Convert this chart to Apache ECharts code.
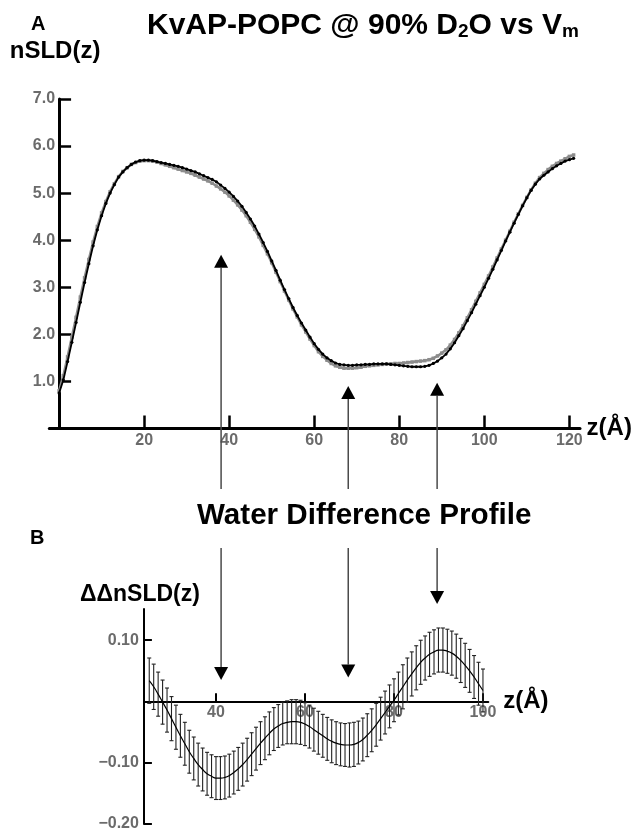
<!DOCTYPE html>
<html>
<head>
<meta charset="utf-8">
<script src="https://cdn.jsdelivr.net/npm/echarts@6/dist/echarts.min.js"></script>
<style>
  html, body { margin: 0; padding: 0; background: #fff; }
  #chart { width: 636px; height: 832px; }
</style>
</head>
<body>
<div id="chart"></div>
<script>
// panel A: nSLD profiles, one sample every 1 Å starting at z = 0
var nSLDBlack = [
  0.75, 1.03, 1.42, 1.83, 2.25, 2.68, 3.10, 3.50, 3.88, 4.22,
  4.52, 4.78, 5.00, 5.18, 5.34, 5.45, 5.54, 5.61, 5.66, 5.69,
  5.70, 5.70, 5.69, 5.67, 5.65, 5.63, 5.61, 5.59, 5.57, 5.54,
  5.51, 5.48, 5.45, 5.41, 5.37, 5.33, 5.29, 5.24, 5.17, 5.10,
  5.02, 4.93, 4.83, 4.72, 4.59, 4.45, 4.30, 4.13, 3.95, 3.76,
  3.56, 3.36, 3.15, 2.95, 2.76, 2.57, 2.40, 2.24, 2.09, 1.94,
  1.80, 1.68, 1.58, 1.50, 1.44, 1.39, 1.36, 1.35, 1.34, 1.34,
  1.35, 1.35, 1.36, 1.36, 1.37, 1.37, 1.37, 1.37, 1.36, 1.35,
  1.34, 1.33, 1.32, 1.31, 1.31, 1.31, 1.32, 1.34, 1.38, 1.43,
  1.50, 1.58, 1.69, 1.82, 1.97, 2.12, 2.29, 2.46, 2.64, 2.82,
  3.00, 3.19, 3.38, 3.58, 3.78, 3.98, 4.17, 4.36, 4.55, 4.73,
  4.90, 5.06, 5.19, 5.30, 5.38, 5.45, 5.52, 5.58, 5.63, 5.68,
  5.71, 5.74
];
var nSLDGray = [
  0.80, 1.12, 1.52, 1.94, 2.36, 2.79, 3.20, 3.59, 3.96, 4.29,
  4.58, 4.82, 5.03, 5.20, 5.35, 5.46, 5.54, 5.61, 5.65, 5.68,
  5.69, 5.69, 5.68, 5.66, 5.63, 5.60, 5.57, 5.54, 5.51, 5.48,
  5.45, 5.42, 5.38, 5.34, 5.30, 5.26, 5.21, 5.15, 5.09, 5.02,
  4.94, 4.85, 4.75, 4.64, 4.52, 4.38, 4.23, 4.07, 3.89, 3.71,
  3.52, 3.32, 3.12, 2.92, 2.73, 2.54, 2.37, 2.20, 2.05, 1.90,
  1.76, 1.63, 1.53, 1.45, 1.38, 1.33, 1.30, 1.28, 1.28, 1.28,
  1.29, 1.30, 1.32, 1.33, 1.34, 1.35, 1.36, 1.37, 1.37, 1.38,
  1.38, 1.39, 1.40, 1.41, 1.42, 1.43, 1.44, 1.46, 1.49, 1.54,
  1.60, 1.67, 1.77, 1.89, 2.03, 2.18, 2.35, 2.52, 2.70, 2.88,
  3.06, 3.24, 3.43, 3.62, 3.81, 4.00, 4.19, 4.38, 4.56, 4.74,
  4.91, 5.07, 5.21, 5.33, 5.42, 5.50, 5.57, 5.63, 5.68, 5.73,
  5.78, 5.81
];
var zTopStart = 0;
var zTicksTop = [20, 40, 60, 80, 100, 120];
var nSLDTicks = [1, 2, 3, 4, 5, 6, 7];

// panel B: water difference profile, one sample every 1 Å starting at z = 25
var ddMean = [
  0.034, 0.024, 0.012, -0.001, -0.014, -0.028, -0.042, -0.056, -0.069, -0.082,
  -0.093, -0.103, -0.111, -0.118, -0.122, -0.125, -0.125, -0.124, -0.121, -0.116,
  -0.110, -0.103, -0.095, -0.086, -0.077, -0.068, -0.060, -0.052, -0.045, -0.040,
  -0.036, -0.034, -0.033, -0.033, -0.034, -0.037, -0.041, -0.046, -0.051, -0.056,
  -0.061, -0.065, -0.068, -0.070, -0.071, -0.071, -0.070, -0.067, -0.062, -0.055,
  -0.047, -0.038, -0.028, -0.018, -0.008, 0.002, 0.013, 0.024, 0.035, 0.045,
  0.055, 0.064, 0.071, 0.077, 0.081, 0.084, 0.084, 0.082, 0.079, 0.074,
  0.067, 0.059, 0.050, 0.040, 0.029, 0.018
];
var ddErr = [
  0.037, 0.037, 0.036, 0.036, 0.036, 0.036, 0.036, 0.035, 0.035, 0.035,
  0.035, 0.035, 0.035, 0.035, 0.035, 0.035, 0.035, 0.035, 0.035, 0.035,
  0.035, 0.035, 0.035, 0.035, 0.035, 0.035, 0.035, 0.035, 0.035, 0.035,
  0.035, 0.035, 0.036, 0.036, 0.036, 0.035, 0.035, 0.035, 0.035, 0.035,
  0.035, 0.035, 0.035, 0.035, 0.035, 0.036, 0.036, 0.035, 0.035, 0.035,
  0.035, 0.035, 0.035, 0.035, 0.035, 0.035, 0.035, 0.036, 0.036, 0.036,
  0.036, 0.036, 0.036, 0.036, 0.036, 0.036, 0.036, 0.036, 0.036, 0.036,
  0.036, 0.036, 0.035, 0.035, 0.035, 0.035
];
var zDiffStart = 25;
var zTicksDiff = [40, 60, 80, 100];
var ddTicks = [-0.2, -0.1, 0.1];

// arrows: z in panel A, tip heights in panel A / panel B units
var arrowZ = [38.1, 68.0, 88.9];
var arrowTopTip = [3.69, 0.90, 0.97];
var arrowBottomTip = [0.035, 0.039, 0.159];

var FONT = '"Liberation Sans", Arial, sans-serif';
var GRAY = '#6b6b6b';

var zTop = nSLDBlack.map(function (v, i) { return zTopStart + i; });
var zDiff = ddMean.map(function (v, i) { return zDiffStart + i; });

// axis extents and grid boxes
var topX = [-2.3, 122.5], topY = [0, 7];
var botX = [23.8, 101.2], botY = [-0.2, 0.151];
var gridTop = { left: 49.3, right: 56, top: 99, bottom: 403.6 };
var gridBot = { left: 143.9, right: 147.7, top: 609, bottom: 7.7 };
var W = 636, H = 832;
// move whole axes (line, ticks, labels) onto the other axis' zero
var topYOffset = -(0 - topX[0]) / (topX[1] - topX[0]) * (W - gridTop.left - gridTop.right);
var botXOffset = -(0 - botY[0]) / (botY[1] - botY[0]) * (H - gridBot.top - gridBot.bottom);

var chart = echarts.init(document.getElementById('chart'), null, { renderer: 'canvas' });

function labelStyle(margin) {
  return { color: GRAY, fontWeight: 'bold', fontSize: 16, fontFamily: FONT, margin: margin };
}
function nameStyle(size, pad) {
  return { color: '#000', fontWeight: 'bold', fontSize: size, fontFamily: FONT, padding: pad };
}

var option = {
  animation: false,
  backgroundColor: '#fff',
  grid: [gridTop, gridBot],
  xAxis: [{
    gridIndex: 0, type: 'value', min: topX[0], max: topX[1],
    name: 'z(Å)', nameLocation: 'end', nameGap: 5, nameTextStyle: nameStyle(24, 0),
    axisLine: { lineStyle: { color: '#000', width: 3 } },
    axisTick: { inside: true, length: 13, customValues: zTicksTop, lineStyle: { color: '#000', width: 2.5 } },
    axisLabel: Object.assign(labelStyle(4), { customValues: zTicksTop }),
    splitLine: { show: false }
  }, {
    gridIndex: 1, type: 'value', min: botX[0], max: botX[1], offset: botXOffset,
    name: 'z(Å)', nameLocation: 'end', nameGap: 15, nameTextStyle: nameStyle(24, 0),
    axisLine: { onZero: false, lineStyle: { color: '#000', width: 2 } },
    axisTick: { inside: true, length: 8, customValues: zTicksDiff, lineStyle: { color: '#000', width: 2 } },
    axisLabel: Object.assign(labelStyle(3), { customValues: zTicksDiff }),
    splitLine: { show: false }
  }],
  yAxis: [{
    gridIndex: 0, type: 'value', min: topY[0], max: topY[1], offset: topYOffset,
    name: 'nSLD(z)', nameLocation: 'end', nameGap: 36, nameTextStyle: nameStyle(24, [0, 8, 0, 0]),
    axisLine: { onZero: false, lineStyle: { color: '#000', width: 3 } },
    axisTick: { inside: true, length: 12, customValues: nSLDTicks, lineStyle: { color: '#000', width: 2.5 } },
    axisLabel: Object.assign(labelStyle(4), {
      customValues: nSLDTicks,
      formatter: function (v) { return v.toFixed(1); }
    }),
    splitLine: { show: false }
  }, {
    gridIndex: 1, type: 'value', min: botY[0], max: botY[1],
    name: 'ΔΔnSLD(z)', nameLocation: 'end', nameGap: 3, nameTextStyle: nameStyle(23, [0, 8, 0, 0]),
    axisLine: { lineStyle: { color: '#000', width: 2 } },
    axisTick: { inside: true, length: 8, customValues: ddTicks, lineStyle: { color: '#000', width: 2 } },
    axisLabel: Object.assign(labelStyle(5), {
      customValues: ddTicks,
      formatter: function (v) { return (v < 0 ? '\u2212' : '') + Math.abs(v).toFixed(2); }
    }),
    splitLine: { show: false }
  }],
  series: [{
    name: 'gray', type: 'line', xAxisIndex: 0, yAxisIndex: 0, z: 2,
    data: zTop.map(function (z, i) { return [z, nSLDGray[i]]; }),
    symbol: 'rect', symbolSize: 3.5, showSymbol: true,
    itemStyle: { color: '#8c8c8c' },
    lineStyle: { color: '#8c8c8c', width: 2.5 }
  }, {
    name: 'black', type: 'line', xAxisIndex: 0, yAxisIndex: 0, z: 3,
    data: zTop.map(function (z, i) { return [z, nSLDBlack[i]]; }),
    symbol: 'circle', symbolSize: 3.2, showSymbol: true,
    itemStyle: { color: '#000' },
    lineStyle: { color: '#000', width: 1.8 }
  }, {
    name: 'errors', type: 'custom', xAxisIndex: 1, yAxisIndex: 1, z: 2,
    data: zDiff.map(function (z, i) { return [z, ddMean[i] - ddErr[i], ddMean[i] + ddErr[i]]; }),
    encode: { x: 0, y: [1, 2] },
    renderItem: function (params, api) {
      var lo = api.coord([api.value(0), api.value(1)]);
      var hi = api.coord([api.value(0), api.value(2)]);
      var st = { stroke: '#222', lineWidth: 1.1 };
      var cap = 2;
      return {
        type: 'group',
        children: [
          { type: 'line', shape: { x1: lo[0], y1: lo[1], x2: hi[0], y2: hi[1] }, style: st },
          { type: 'line', shape: { x1: hi[0] - cap, y1: hi[1], x2: hi[0] + cap, y2: hi[1] }, style: st },
          { type: 'line', shape: { x1: lo[0] - cap, y1: lo[1], x2: lo[0] + cap, y2: lo[1] }, style: st }
        ]
      };
    }
  }, {
    name: 'mean', type: 'line', xAxisIndex: 1, yAxisIndex: 1, z: 3,
    data: zDiff.map(function (z, i) { return [z, ddMean[i]]; }),
    smooth: true, showSymbol: false,
    lineStyle: { color: '#000', width: 1.2 }
  }],
  graphic: [
    { id: 'title', type: 'text', left: 147, top: 11, z: 10,
      style: {
        text: '{a|KvAP-POPC @ 90% D}{s|2}{a|O vs V}{s|m}',
        rich: {
          a: { fontSize: 30, fontWeight: 'bold', fontFamily: FONT, fill: '#000', lineHeight: 30 },
          s: { fontSize: 19, fontWeight: 'bold', fontFamily: FONT, fill: '#000', verticalAlign: 'bottom', lineHeight: 22 }
        }
      } },
    { id: 'labA', type: 'text', x: 31, y: 24, z: 10,
      style: { text: 'A', fontSize: 20, fontWeight: 'bold', fontFamily: FONT, fill: '#000', verticalAlign: 'middle' } },
    { id: 'labB', type: 'text', x: 30, y: 538, z: 10,
      style: { text: 'B', fontSize: 20, fontWeight: 'bold', fontFamily: FONT, fill: '#000', verticalAlign: 'middle' } },
    { id: 'wdp', type: 'text', x: 197, y: 516, z: 10,
      style: { text: 'Water Difference Profile', fontSize: 29.6, fontWeight: 'bold', fontFamily: FONT, fill: '#000', verticalAlign: 'middle' } }
  ]
};

chart.setOption(option);

// arrows linking panel A to panel B, broken around the middle caption
var gapTop = 489, gapBottom = 548, head = 13, half = 7;
var arrowEls = [];
arrowZ.forEach(function (z, i) {
  var p = chart.convertToPixel({ gridIndex: 0 }, [z, arrowTopTip[i]]);
  var x = p[0], yTop = p[1];
  var yBot = chart.convertToPixel({ yAxisIndex: 1 }, arrowBottomTip[i]);
  var ls = { stroke: '#4a4a4a', lineWidth: 1.5 };
  arrowEls.push({ id: 'la' + i, type: 'line', z: 5, shape: { x1: x, y1: yTop + head, x2: x, y2: gapTop }, style: ls });
  arrowEls.push({ id: 'lb' + i, type: 'line', z: 5, shape: { x1: x, y1: gapBottom, x2: x, y2: yBot - head }, style: ls });
  arrowEls.push({ id: 'ha' + i, type: 'polygon', z: 6,
    shape: { points: [[x, yTop], [x - half, yTop + head], [x + half, yTop + head]] }, style: { fill: '#000' } });
  arrowEls.push({ id: 'hb' + i, type: 'polygon', z: 6,
    shape: { points: [[x, yBot], [x - half, yBot - head], [x + half, yBot - head]] }, style: { fill: '#000' } });
});
chart.setOption({ graphic: arrowEls });
</script>
</body>
</html>
